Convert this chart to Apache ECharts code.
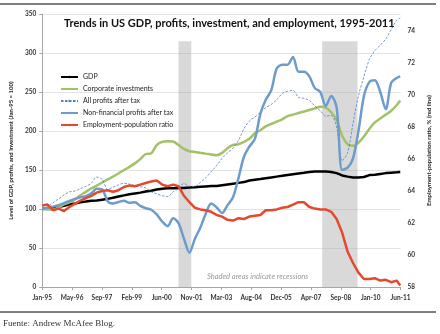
<!DOCTYPE html>
<html>
<head>
<meta charset="utf-8">
<script src="https://cdn.jsdelivr.net/npm/echarts@6/dist/echarts.min.js"></script>
<style>
  html, body { margin: 0; padding: 0; background: #fff; }
  #chart { width: 440px; height: 334px; }
</style>
</head>
<body>
<div id="chart"></div>
<script>
// Quarterly observations, Jan-95 to Jun-11
const months = [
  '1995-01','1995-04','1995-07','1995-10','1996-01','1996-04','1996-07','1996-10',
  '1997-01','1997-04','1997-07','1997-10','1998-01','1998-04','1998-07','1998-10',
  '1999-01','1999-04','1999-07','1999-10','2000-01','2000-04','2000-07','2000-10',
  '2001-01','2001-04','2001-07','2001-10','2002-01','2002-04','2002-07','2002-10',
  '2003-01','2003-04','2003-07','2003-10','2004-01','2004-04','2004-07','2004-10',
  '2005-01','2005-04','2005-07','2005-10','2006-01','2006-04','2006-07','2006-10',
  '2007-01','2007-04','2007-07','2007-10','2008-01','2008-04','2008-07','2008-10',
  '2009-01','2009-04','2009-07','2009-10','2010-01','2010-04','2010-07','2010-10',
  '2011-01','2011-04','2011-06'
];

// Index levels, Jan-95 = 100
const gdp = [
  100, 101, 102, 102.5, 104, 106, 107, 108.5, 109.5, 110.5, 111, 112, 113, 114.5, 116, 117.5,
  119, 120, 121, 122.5, 123.5, 125, 126, 126.5, 126.5, 127, 127, 127.5, 128, 128.5, 129, 129.5,
  129.5, 130.5, 131.5, 132.5, 133.5, 134.5, 136.5, 137.5, 138.5, 139.5, 140.5, 141.5, 142.5, 143.5, 144.5, 145.5,
  146.5, 147.5, 148, 148, 148, 147.5, 146, 143, 141.5, 140.5, 140.5, 141, 143.5, 144, 145, 146,
  146.5, 147, 147.5
];
const corporateInvestment = [
  100, 99.5, 99, 102, 106, 108.5, 112, 117.5, 122, 126.5, 130, 134, 138, 141.5, 145.5, 150,
  154, 158.5, 164, 170.5, 171.5, 182, 186, 187, 186.5, 182, 177, 174, 173, 172, 171, 170,
  169, 172, 178, 182, 183, 186, 190, 197, 201, 206, 209, 212, 215, 219, 221, 223,
  225, 227, 229, 231, 230, 224, 214, 194, 183, 181, 185, 193, 203, 211, 216, 221,
  226, 233, 239
];
const allProfits = [
  100, 103, 108, 113, 118, 122, 123, 126, 129, 133, 141, 138, 125, 128, 131, 133,
  132, 130, 128.5, 127, 122, 119.5, 117, 116, 122, 126, 133, 129, 129, 134, 140, 148,
  156, 165, 172, 178, 188, 203, 213, 218, 224, 230, 234, 240, 248, 251, 252, 243,
  242, 239, 232, 226, 219, 220, 205, 162, 172, 210, 245, 270, 292, 303, 310, 318,
  330, 342, 345
];
const nonFinancialProfits = [
  100, 101.5, 103, 105, 107.5, 110.5, 113, 115, 116.5, 120, 126, 125, 110, 107, 109, 110.5,
  108, 108.5, 104, 101, 99, 93, 84, 78, 88, 82, 62, 44, 62, 76, 94, 107,
  102, 95, 105, 115, 140, 167, 180, 190, 222, 240, 252, 280, 285, 285, 295, 276,
  276, 270, 255, 250, 232, 245, 230, 150, 153, 165, 200, 245, 263, 265, 250, 228,
  262, 268, 270
];
// Percent of population employed
const employmentRatio = [
  63.1, 63.15, 62.8, 62.9, 62.75, 63.0, 63.2, 63.4, 63.55, 63.7, 63.9, 64.0, 64.05, 63.95, 64.05, 64.25,
  64.35, 64.3, 64.4, 64.5, 64.6, 64.65, 64.4, 64.3, 64.4, 64.3, 63.7, 63.3, 62.95, 62.85, 62.8, 62.7,
  62.5, 62.4, 62.2, 62.15, 62.3, 62.25, 62.4, 62.45, 62.5, 62.8, 62.8, 62.85, 62.95, 63.0, 63.15, 63.3,
  63.3, 63.0, 62.9, 62.85, 62.85, 62.7, 62.25, 61.4, 60.2, 59.5, 58.9, 58.5, 58.5, 58.55, 58.4, 58.45,
  58.3, 58.4, 58.1
];

const tickLabels = ['Jan-95','May-96','Sep-97','Feb-99','Jun-00','Nov-01','Mar-03',
                    'Aug-04','Dec-05','Apr-07','Sep-08','Jan-10','Jun-11'];
const recessions = [['2001-04-01', '2001-11-01'], ['2007-11-01', '2009-06-15']];

// Dates are placed on a day-count axis starting at 1 Jan 1995
const DAY = 86400000;
const origin = Date.UTC(1995, 0, 1);
function dayOf(s) {
  const p = s.split('-').map(Number);
  return (Date.UTC(p[0], p[1] - 1, p[2] || 1) - origin) / DAY;
}
const pairs = arr => months.map((m, i) => [dayOf(m), arr[i]]);

const FONT = 'Lato';
const chart = echarts.init(document.getElementById('chart'));

const lineSeries = (name, data, color, width, extra) => Object.assign({
  name: name,
  type: 'line',
  data: pairs(data),
  showSymbol: false,
  symbol: 'none',
  lineStyle: { color: color, width: width },
  itemStyle: { color: color },
  z: 3
}, extra || {});

chart.setOption({
  animation: false,
  textStyle: { fontFamily: FONT },
  grid: { left: 33, right: 32, top: 14, bottom: 47 },
  title: {
    text: 'Trends in US GDP, profits, investment, and employment, 1995-2011',
    left: 59, top: 13,
    textStyle: { fontFamily: FONT, fontSize: 11, fontWeight: 'bold', color: '#111' }
  },
  legend: {
    orient: 'vertical',
    left: 55, top: 68,
    itemWidth: 17, itemHeight: 3, itemGap: 4,
    textStyle: { fontFamily: FONT, fontSize: 7, color: '#222', lineHeight: 8 },
    data: ['GDP', 'Corporate investments', 'All profits after tax',
           'Non-financial profits after tax', 'Employment-population ratio']
  },
  xAxis: {
    type: 'value',
    min: 0, max: 6000, interval: 500,
    axisLine: { lineStyle: { color: '#a6a6a6', width: 1 } },
    axisTick: { show: true, length: 3, lineStyle: { color: '#a6a6a6' } },
    splitLine: { show: false },
    axisLabel: {
      fontFamily: FONT, fontSize: 6.5, fontWeight: 'bold', color: '#333', margin: 7,
      formatter: v => tickLabels[Math.round(v / 500)] || ''
    }
  },
  yAxis: [
    {
      type: 'value',
      min: 0, max: 350, interval: 50,
      name: 'Level of GDP, profits, and investment (Jan-95 = 100)',
      nameLocation: 'middle', nameRotate: 90, nameGap: 22,
      nameTextStyle: { fontFamily: FONT, fontSize: 6, fontWeight: 'bold', color: '#222' },
      axisLine: { show: true, lineStyle: { color: '#a6a6a6' } },
      axisTick: { show: true, length: 3, lineStyle: { color: '#a6a6a6' } },
      splitLine: { show: true, lineStyle: { color: '#e3e3e3', width: 1 } },
      axisLabel: { fontFamily: FONT, fontSize: 6.5, fontWeight: 'bold', color: '#333', margin: 6 }
    },
    {
      type: 'value',
      min: 58, max: 75.0625, interval: 2,
      name: 'Employment-population ratio, % (red line)',
      nameLocation: 'middle', nameRotate: 90, nameGap: 24,
      nameTextStyle: { fontFamily: FONT, fontSize: 6, fontWeight: 'bold', color: '#222' },
      axisLine: { show: false },
      axisTick: { show: false },
      splitLine: { show: false },
      axisLabel: { fontFamily: FONT, fontSize: 6.5, fontWeight: 'bold', color: '#333', margin: 7,
                   showMaxLabel: false }
    }
  ],
  series: [
    lineSeries('GDP', gdp, '#000000', 2.5),
    lineSeries('Corporate investments', corporateInvestment, '#a3c167', 2.5, { smooth: 0.3 }),
    lineSeries('All profits after tax', allProfits, '#4f81bd', 0.8,
      { smooth: 0.3, lineStyle: { color: '#4f81bd', width: 0.8, type: [2.5, 1.5] } }),
    lineSeries('Non-financial profits after tax', nonFinancialProfits, '#6d9ccc', 2.5, { smooth: 0.3 }),
    lineSeries('Employment-population ratio', employmentRatio, '#e2492d', 2.5, { yAxisIndex: 1 }),
    {
      // recession shading sits over the lines
      name: 'recessions',
      type: 'line',
      data: [],
      z: 10,
      silent: true,
      markArea: {
        silent: true,
        itemStyle: { color: 'rgba(170,170,170,0.45)' },
        data: recessions.map(r => [{ xAxis: dayOf(r[0]), yAxis: 0 }, { xAxis: dayOf(r[1]), yAxis: 315 }])
      }
    }
  ],
  graphic: [
    { type: 'line', shape: { x1: 0, y1: 4, x2: 436, y2: 4 }, style: { stroke: '#000', lineWidth: 1 } },
    { type: 'line', shape: { x1: 0, y1: 312, x2: 436, y2: 312 }, style: { stroke: '#000', lineWidth: 1 } },
    {
      type: 'text', left: 207, top: 273,
      style: { text: 'Shaded areas indicate recessions', fill: '#9a9a9a',
               font: 'italic 7.5px Lato' }
    },
    {
      type: 'text', left: 3, top: 319,
      style: { text: 'Fuente: Andrew McAfee Blog.', fill: '#333',
               font: '9px "Liberation Serif"' }
    }
  ]
});
</script>
</body>
</html>
